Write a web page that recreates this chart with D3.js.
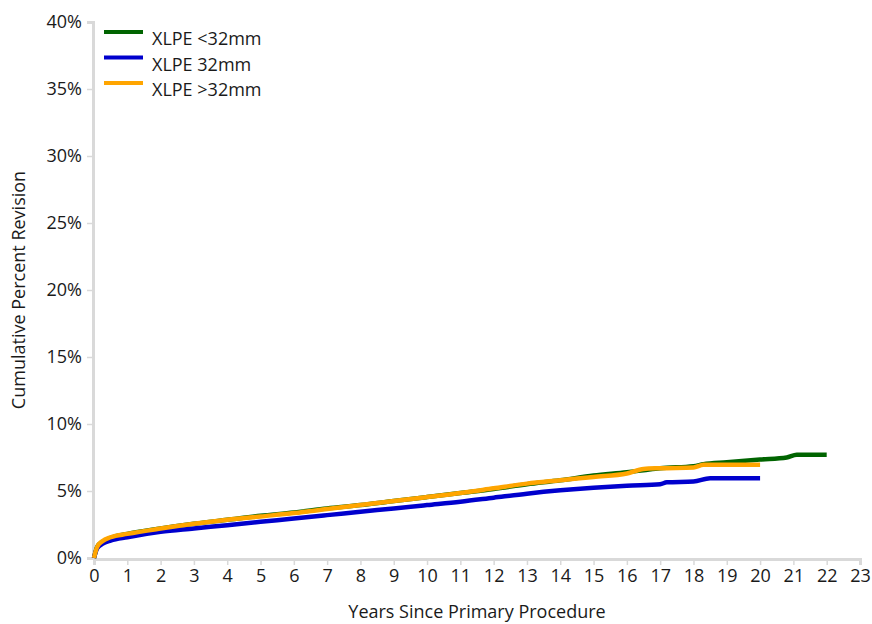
<!DOCTYPE html>
<html><head><meta charset="utf-8">
<script src="https://cdn.jsdelivr.net/npm/d3@7"></script>
<style>body{margin:0;background:#fff}svg{display:block}text{font-family:"Open Sans","Noto Sans",sans-serif;fill:#1a1a1a}</style>
</head><body><div id="chart"></div>
<script>
const seriesNames = ["XLPE <32mm", "XLPE 32mm", "XLPE >32mm"];
const seriesColors = ["#006400", "#0000cd", "#ffa500"];
const greenYears = [0,0.05,0.1,0.25,0.5,1,2,3,4,5,6,7,8,9,10,11,12,13,14,15,16,16.5,17,18,18.3,19,20,20.8,21.1,22];
const greenVals  = [0,0.5,0.85,1.2,1.5,1.8,2.2,2.55,2.85,3.15,3.4,3.7,3.95,4.25,4.55,4.85,5.15,5.5,5.8,6.15,6.4,6.55,6.7,6.85,7.0,7.15,7.35,7.5,7.7,7.7];
const blueYears = [0,0.05,0.1,0.25,0.5,1,2,3,4,5,6,7,8,9,10,11,12,13,14,15,16,17,17.2,18,18.5,20];
const blueVals  = [0,0.45,0.75,1.05,1.3,1.55,1.95,2.2,2.45,2.7,2.95,3.2,3.45,3.7,3.95,4.2,4.5,4.8,5.05,5.25,5.4,5.5,5.65,5.7,5.95,5.95];
const orangeYears = [0,0.05,0.1,0.25,0.5,1,2,3,4,5,6,7,8,9,10,11,12,13,14,15,16,16.5,17,18,18.3,19,20];
const orangeVals  = [0,0.5,0.85,1.25,1.55,1.8,2.2,2.55,2.85,3.1,3.35,3.65,3.95,4.25,4.55,4.85,5.2,5.55,5.8,6.05,6.3,6.65,6.7,6.75,6.95,6.95,6.95];
const xTicks = d3.range(0, 24);
const yTicks = [0,5,10,15,20,25,30,35,40];

const W = 872, H = 624;
const m = {left: 94};
const svg = d3.select("#chart").append("svg").attr("width", W).attr("height", H);
const x = d3.scaleLinear().domain([0, 23]).range([m.left, 860]);
const y = d3.scaleLinear().domain([0, 40]).range([558, 22]);

// y axis
const ya = svg.append("g").attr("transform", `translate(${m.left - 1},0)`)
  .call(d3.axisLeft(y).tickValues(yTicks).tickFormat(d => d + "%").tickSize(6).tickPadding(5));
ya.select(".domain").attr("stroke", "#d9d9d9").attr("stroke-width", 3);
ya.selectAll(".tick line").attr("stroke", "#d9d9d9").attr("stroke-width", 1.5);
ya.selectAll(".tick text").style("font-size", "18px").attr("fill", "#1a1a1a");

// x axis
const xa = svg.append("g").attr("transform", `translate(0,${y(0) + 1})`)
  .call(d3.axisBottom(x).tickValues(xTicks).tickFormat(d => d).tickSize(6).tickPadding(4));
xa.select(".domain").attr("stroke", "#d9d9d9").attr("stroke-width", 3);
xa.selectAll(".tick line").attr("stroke", "#d9d9d9").attr("stroke-width", 1.5);
xa.selectAll(".tick text").style("font-size", "18px").attr("fill", "#1a1a1a");

svg.append("text").attr("x", 477).attr("y", 618).attr("text-anchor", "middle")
  .style("font-size", "18px").text("Years Since Primary Procedure");
svg.append("text").attr("transform", "translate(25,290) rotate(-90)").attr("text-anchor", "middle")
  .style("font-size", "18px").text("Cumulative Percent Revision");

const data = [
  greenYears.map((d, i) => [d, greenVals[i]]),
  blueYears.map((d, i) => [d, blueVals[i]]),
  orangeYears.map((d, i) => [d, orangeVals[i]])
];
const line = d3.line().x(d => x(d[0])).y(d => y(d[1])).curve(d3.curveMonotoneX);
data.forEach((s, i) => {
  svg.append("path").datum(s).attr("d", line).attr("fill", "none")
    .attr("stroke", seriesColors[i]).attr("stroke-width", 4.5).attr("stroke-linejoin", "round");
});

// legend
seriesNames.forEach((n, i) => {
  const yy = 32 + i * 25.5;
  svg.append("line").attr("x1", 104).attr("x2", 143).attr("y1", yy).attr("y2", yy)
    .attr("stroke", seriesColors[i]).attr("stroke-width", 4);
  svg.append("text").attr("x", 152).attr("y", yy + 13).style("font-size", "18px").text(n);
});
</script></body></html>
